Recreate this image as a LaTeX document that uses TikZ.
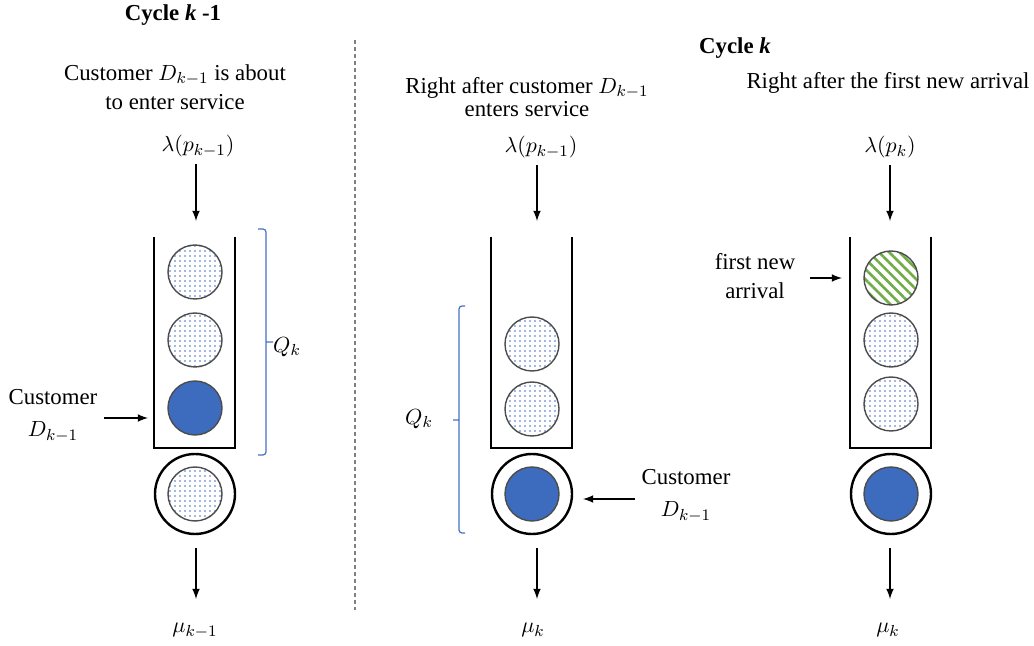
\documentclass[tikz,border=0pt]{standalone}
\usepackage{fontspec}
\setmainfont{Liberation Serif}
\usetikzlibrary{calc,patterns.meta,arrows.meta}
\definecolor{qblue}{HTML}{4472C4}
\definecolor{qfill}{HTML}{3D6BBE}
\definecolor{qgreen}{HTML}{70AD47}

\begin{document}
\begin{tikzpicture}[x=0.5pt,y=-0.5pt,
    every node/.style={font=\fontsize{11.4}{14.5}\selectfont},
    tube/.style={line width=1.3pt},
    ring/.style={circle,minimum size=40pt,inner sep=0pt,draw,line width=1.2pt},
    ball/.style={circle,minimum size=27pt,inner sep=0pt,draw=black!70,line width=0.7pt},
    waitball/.style={ball,pattern={Dots[distance=2.5pt,radius=0.4pt]},pattern color=qblue},
    busyball/.style={ball,fill=qfill},
    newball/.style={ball,pattern={Lines[angle=-45,distance=3.6pt,line width=1.3pt]},pattern color=qgreen},
    flow/.style={-latex,line width=0.75pt},
    brace/.style={draw=qblue,line width=0.6pt,rounded corners=1.5pt},
    divider/.style={gray,line width=0.6pt,dash pattern=on 2pt off 1.5pt}]
  \useasboundingbox (0,0) rectangle (1034,646);

  %% Tubes and servers of the three queues
  \foreach \q/\cx in {L/195,M/532,R/891}
  {
    \draw[tube] (\cx-41,237) -- (\cx-41,448) -- (\cx+40,448) -- (\cx+40,237);
    \node[ring] (srv\q) at (\cx,494) {};
  }

  %% Customers
  \node[waitball] (qL1) at (195,272) {};
  \node[waitball] (qL2) at (195,340) {};
  \node[busyball] (qL3) at (195,408) {};
  \node[waitball] (sL)  at (195,494) {};

  \node[waitball] (qM1) at (532,344) {};
  \node[waitball] (qM2) at (532,409) {};
  \node[busyball] (sM)  at (532,494) {};

  \node[newball]  (qR1) at (891,278) {};
  \node[waitball] (qR2) at (891,340) {};
  \node[waitball] (qR3) at (891,404) {};
  \node[busyball] (sR)  at (891,494) {};

  %% Titles and captions
  \node (cycA) at (173,15) {\textbf{Cycle \textit{k} -1}};
  \node (cycB) at (735,48) {\textbf{Cycle \textit{k}}};
  \draw[divider] (355,40) -- (355,610);

  \node[align=center] (descL) at (175,87) {Customer $D_{k-1}$ is about\\to enter service};
  \node[align=center] (descM) at (527,97) {Right after customer $D_{k-1}$\\[-3pt]enters service};
  \node (descR) at (888,83) {Right after the first new arrival};

  %% Arrival and service rates
  \node (lamL) at (198,146) {$\lambda(p_{k-1})$};
  \node (lamM) at (541,147) {$\lambda(p_{k-1})$};
  \node (lamR) at (890,147) {$\lambda(p_k)$};
  \node[anchor=north,inner sep=0pt] (muL) at (195,623) {$\mu_{k-1}$};
  \node[anchor=north,inner sep=0pt] (muM) at (533,623) {$\mu_k$};
  \node[anchor=north,inner sep=0pt] (muR) at (888,623) {$\mu_k$};

  \foreach \q/\ax in {L/196,M/537,R/890}
  {
    \coordinate (in\q) at (\ax,221);
    \draw[flow] (lam\q.south -| in\q) -- (in\q);
    \draw[flow,shorten <=6.5pt,shorten >=12pt] (srv\q.south -| in\q) -- (mu\q.north -| in\q);
  }

  %% Pointers to customers
  \node[align=center] (custL) at (53,416) {Customer\\[1.5pt]$D_{k-1}$};
  \coordinate (ptrL) at (148,418);
  \draw[flow] (custL.east |- ptrL) -- (ptrL);

  \node[align=center] (custM) at (686,496) {Customer\\[1.5pt]$D_{k-1}$};
  \coordinate (ptrM) at (583,499);
  \draw[flow] (custM.west |- ptrM) -- (ptrM);

  \node[align=center] (arrR) at (755,276) {first new\\arrival};
  \coordinate (ptrR) at (842,278);
  \draw[flow,shorten <=4pt] (arrR.east |- ptrR) -- (ptrR);

  %% Queue length brackets
  \draw[brace] (258,229) -- (266,229) -- (266,455) -- (258,455) (266,342) -- (273,342);
  \node (QL) at (287,347) {$Q_k$};
  \draw[brace] (465,306) -- (459,306) -- (459,533) -- (465,533) (459,420) -- (453,420);
  \node (QM) at (419,419) {$Q_k$};
\end{tikzpicture}
\end{document}
